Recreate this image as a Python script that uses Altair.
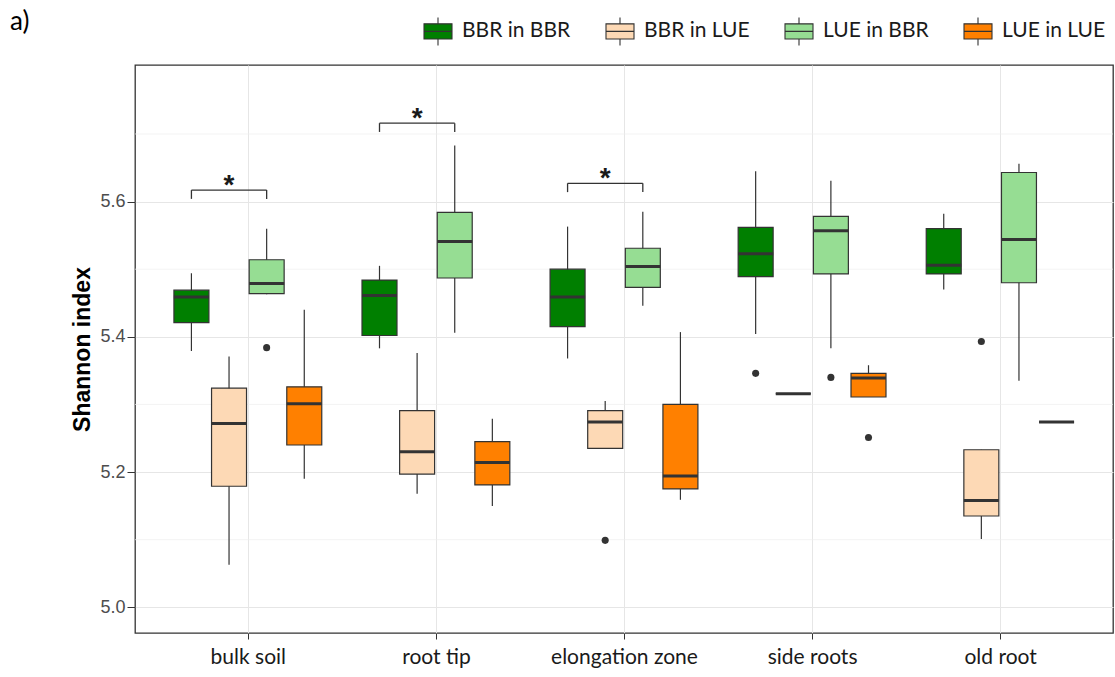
import json
import altair as alt
import pandas as pd

# ---------------- data ----------------
categories = ["bulk soil", "root tip", "elongation zone", "side roots", "old root"]
groups = ["BBR in BBR", "BBR in LUE", "LUE in BBR", "LUE in LUE"]
colors = ["#007F00", "#FDD9B5", "#96DD93", "#FF8000"]

# one list per group, one value per category (in the order of `categories`)
whisker_low = {
    "BBR in BBR": [5.379, 5.383, 5.368, 5.404, 5.470],
    "BBR in LUE": [5.063, 5.168, 5.235, 5.316, 5.101],
    "LUE in BBR": [5.463, 5.406, 5.446, 5.383, 5.335],
    "LUE in LUE": [5.190, 5.150, 5.159, 5.311, 5.274],
}
quart1 = {
    "BBR in BBR": [5.421, 5.402, 5.415, 5.489, 5.493],
    "BBR in LUE": [5.179, 5.197, 5.235, 5.316, 5.135],
    "LUE in BBR": [5.464, 5.487, 5.473, 5.493, 5.480],
    "LUE in LUE": [5.240, 5.181, 5.175, 5.311, 5.274],
}
median = {
    "BBR in BBR": [5.459, 5.461, 5.459, 5.523, 5.506],
    "BBR in LUE": [5.272, 5.230, 5.274, 5.316, 5.158],
    "LUE in BBR": [5.479, 5.541, 5.504, 5.557, 5.544],
    "LUE in LUE": [5.301, 5.214, 5.194, 5.339, 5.274],
}
quart3 = {
    "BBR in BBR": [5.469, 5.484, 5.500, 5.562, 5.560],
    "BBR in LUE": [5.324, 5.291, 5.291, 5.316, 5.233],
    "LUE in BBR": [5.514, 5.584, 5.531, 5.578, 5.643],
    "LUE in LUE": [5.326, 5.245, 5.300, 5.346, 5.274],
}
whisker_high = {
    "BBR in BBR": [5.494, 5.505, 5.563, 5.645, 5.582],
    "BBR in LUE": [5.371, 5.376, 5.305, 5.316, 5.233],
    "LUE in BBR": [5.560, 5.683, 5.585, 5.631, 5.656],
    "LUE in LUE": [5.440, 5.279, 5.407, 5.358, 5.274],
}

outlier_category = ["bulk soil", "elongation zone", "side roots", "side roots", "side roots", "old root"]
outlier_group = ["LUE in BBR", "BBR in LUE", "BBR in BBR", "LUE in BBR", "LUE in LUE", "BBR in LUE"]
outlier_value = [5.384, 5.099, 5.346, 5.340, 5.251, 5.393]

sig_category = ["bulk soil", "root tip", "elongation zone"]
sig_group1 = ["BBR in BBR", "BBR in BBR", "BBR in BBR"]
sig_group2 = ["LUE in BBR", "LUE in BBR", "LUE in BBR"]
sig_y = [5.617, 5.716, 5.627]
sig_label = ["*", "*", "*"]

y_major = [5.0, 5.2, 5.4, 5.6]
y_minor = [5.1, 5.3, 5.5, 5.7]

# ---------------- styling constants ----------------
GROUP_STEP = 0.2      # distance between dodged boxes (in category units)
BOX_HALF = 0.093      # half box width (in category units)
TIP = 0.013           # bracket tip length (y units)
DARK = "#333333"


def pos(cat, grp):
    return categories.index(cat) + (groups.index(grp) - 1.5) * GROUP_STEP


rows = []
for g in groups:
    for i, c in enumerate(categories):
        p = pos(c, g)
        rows.append(dict(category=c, group=g, x=p, xl=p - BOX_HALF, xr=p + BOX_HALF,
                         lo=whisker_low[g][i], q1=quart1[g][i], med=median[g][i],
                         q3=quart3[g][i], hi=whisker_high[g][i]))
box_df = pd.DataFrame(rows)

out_df = pd.DataFrame(dict(category=outlier_category, group=outlier_group, value=outlier_value))
out_df["x"] = [pos(c, g) for c, g in zip(outlier_category, outlier_group)]

sig_df = pd.DataFrame(dict(category=sig_category, y=sig_y, label=sig_label))
sig_df["x1"] = [pos(c, g) for c, g in zip(sig_category, sig_group1)]
sig_df["x2"] = [pos(c, g) for c, g in zip(sig_category, sig_group2)]
sig_df["xm"] = (sig_df["x1"] + sig_df["x2"]) / 2
sig_df["tip"] = sig_df["y"] - TIP
tips_df = pd.concat([
    sig_df[["x1", "y", "tip"]].rename(columns={"x1": "x"}),
    sig_df[["x2", "y", "tip"]].rename(columns={"x2": "x"}),
])

minor_df = pd.DataFrame(dict(v=y_minor))

# ---------------- scales ----------------
label_expr = json.dumps(categories) + "[round(datum.value)]"
xscale = alt.Scale(domain=[-0.6, len(categories) - 0.4], nice=False, zero=False)
yscale = alt.Scale(domain=[4.962, 5.802], nice=False, zero=False)

x_axis = alt.Axis(values=list(range(len(categories))), labelExpr=label_expr, title=None,
                  grid=True, gridColor="#E6E6E6", gridWidth=1, domain=False,
                  tickColor=DARK, tickSize=6, labelFont="Lato", labelFontSize=21,
                  labelColor="#1A1A1A", labelPadding=7)
y_axis = alt.Axis(values=y_major, format=".1f", title="Shannon index", grid=True,
                  gridColor="#E6E6E6", gridWidth=1, domain=False, tickColor=DARK,
                  tickSize=8, labelFont="Liberation Sans", labelFontSize=18,
                  labelColor="#4D4D4D", labelPadding=2, titleFont="Liberation Sans",
                  titleFontSize=23, titleFontWeight="bold", titleColor="#000000",
                  titlePadding=5)

X = lambda f: alt.X(f, type="quantitative", scale=xscale, axis=x_axis)
Y = lambda f: alt.Y(f, type="quantitative", scale=yscale, axis=y_axis)

minor = alt.Chart(minor_df).mark_rule(color="#EEEEEE", strokeWidth=0.7).encode(
    y=alt.Y("v:Q", scale=yscale, axis=y_axis)
)

base = alt.Chart(box_df)
whisker = base.mark_rule(color=DARK, strokeWidth=1.2).encode(
    x=X("x"), y=Y("lo"), y2="hi"
)
boxes = base.mark_bar(stroke=DARK, strokeWidth=1.2, opacity=1).encode(
    x=X("xl"), x2="xr", y=Y("q1"), y2="q3",
    fill=alt.Fill("group:N", scale=alt.Scale(domain=groups, range=colors),
                  legend=alt.Legend(title=None)),
)
med = base.mark_rule(color=DARK, strokeWidth=3).encode(
    x=X("xl"), x2="xr", y=Y("med")
)
outliers = alt.Chart(out_df).mark_circle(color=DARK, size=50, opacity=1).encode(
    x=X("x"), y=Y("value")
)
brk_h = alt.Chart(sig_df).mark_rule(color=DARK, strokeWidth=1.3).encode(
    x=X("x1"), x2="x2", y=Y("y")
)
brk_v = alt.Chart(tips_df).mark_rule(color=DARK, strokeWidth=1.3).encode(
    x=X("x"), y=Y("y"), y2="tip"
)
stars = alt.Chart(sig_df).mark_text(font="Liberation Sans", fontSize=28, fontWeight="bold",
                                    color="#1A1A1A", baseline="alphabetic", dy=4).encode(
    x=X("xm"), y=Y("y"), text="label:N"
)

legend_symbol = "M-1,-0.54H1V0.54H-1Z M-1,0H1 M0,-0.54V-1 M0,0.54V1"

chart = alt.layer(minor, whisker, boxes, med, outliers, brk_h, brk_v, stars).properties(
    width=978, height=568,
    autosize=alt.AutoSizeParams(type="none"),
    padding={"left": 135, "top": 65, "right": 2, "bottom": 44},
    title=alt.TitleParams("a)", anchor="start", frame="group", dx=-125, offset=0, dy=40,
                          font="Lato", fontSize=26, fontWeight="normal", color="#000000",
                          baseline="alphabetic"),
).configure_view(
    stroke=DARK, strokeWidth=1.3
).configure_legend(
    orient="none", legendX=288, legendY=-49, direction="horizontal",
    symbolType=legend_symbol, symbolSize=784, symbolStrokeColor=DARK,
    symbolStrokeWidth=1.1, labelFont="Lato", labelFontSize=21, labelColor="#1A1A1A",
    labelOffset=9, columnPadding=32, padding=0, symbolOpacity=1,
)

chart.save("out.html", embed_options={"renderer": "svg", "actions": False})
